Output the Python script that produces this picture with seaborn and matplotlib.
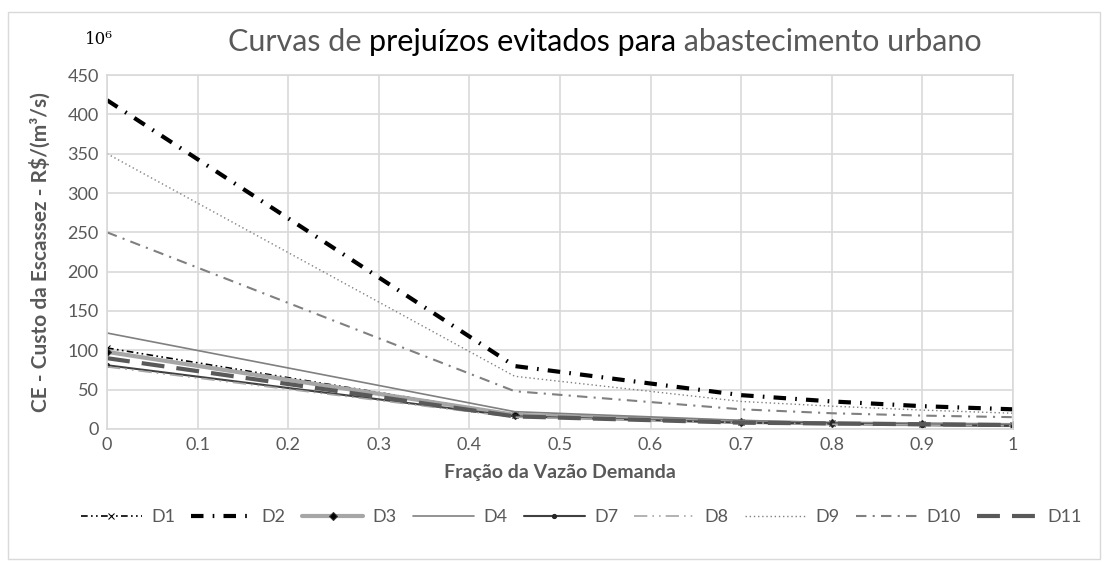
import numpy as np
import pandas as pd
import seaborn as sns
import matplotlib.pyplot as plt
from matplotlib.patches import Rectangle

# data (valores em 10^6)
fracao = [0, 0.45, 0.7, 0.8, 0.9, 1.0]
D1 = [103, 18, 9, 7, 6, 5]
D2 = [418, 80, 43, 35, 29, 25]
D3 = [98, 18, 9, 7, 6, 5]
D4 = [122, 22, 11, 8, 7, 6]
D7 = [81, 16, 8, 7, 5, 4]
D8 = [79, 15, 8, 6, 5, 4]
D9 = [350, 67, 35, 29, 24, 20]
D10 = [250, 48, 25, 20, 17, 15]
D11 = [90, 16, 8, 7, 6, 5]
nomes = ['D1', 'D2', 'D3', 'D4', 'D7', 'D8', 'D9', 'D10', 'D11']
series = [D1, D2, D3, D4, D7, D8, D9, D10, D11]

estilos = {
    'D1': dict(color='black', lw=1.2, ls=(0, (4, 2, 1, 2, 1, 2)), marker='x', ms=5, mec='black'),
    'D2': dict(color='black', lw=3, ls=(0, (3, 2.2, 0.4, 2.2)), marker=None),
    'D3': dict(color='#a6a6a6', lw=3, ls='-', marker='D', ms=4, mfc='black', mec='#333333'),
    'D4': dict(color='#808080', lw=1.2, ls='-', marker=None),
    'D7': dict(color='#404040', lw=1.5, ls='-', marker='o', ms=3, mfc='#262626', mec='#262626'),
    'D8': dict(color='#a6a6a6', lw=1.2, ls=(0, (8, 3, 1, 3, 1, 3)), marker=None),
    'D9': dict(color='#808080', lw=1, ls=(0, (1, 2)), marker=None),
    'D10': dict(color='#808080', lw=1.5, ls=(0, (5, 3, 1, 3)), marker=None),
    'D11': dict(color='#595959', lw=3, ls=(0, (5.5, 2.9)), marker=None),
}

sns.set_theme(style='whitegrid')
plt.rcParams['font.family'] = ['Lato', 'DejaVu Sans']

fig = plt.figure(figsize=(11.07, 5.62), dpi=100)
ax = fig.add_axes([0.0967, 0.2367, 0.8183, 0.6298])

for nome, vals in zip(nomes, series):
    df = pd.DataFrame({'x': fracao, 'y': vals})
    s = estilos[nome]
    kw = dict(color=s['color'], linewidth=s['lw'], linestyle=s['ls'], label=nome)
    if s['marker']:
        kw.update(marker=s['marker'], markersize=s['ms'],
                  markerfacecolor=s.get('mfc', s['color']), markeredgecolor=s.get('mec', s['color']))
    sns.lineplot(data=df, x='x', y='y', ax=ax, legend=False, **kw)

ax.set_xlim(0, 1)
ax.set_ylim(0, 450)
ax.set_xticks(np.arange(0, 1.01, 0.1))
ax.set_xticklabels(['0', '0.1', '0.2', '0.3', '0.4', '0.5', '0.6', '0.7', '0.8', '0.9', '1'])
ax.set_yticks(range(0, 451, 50))
ax.grid(True, color='#d9d9d9', linewidth=1.2)
for sp in ax.spines.values():
    sp.set_color('#d9d9d9')
    sp.set_linewidth(1.2)
ax.tick_params(colors='#595959', labelsize=13, length=0, pad=6)
ax.set_xlabel('Fração da Vazão Demanda', fontsize=14, fontweight='bold', color='#595959', labelpad=8)
ax.set_ylabel('CE - Custo da Escassez - R$/(m³/s)', fontsize=15, fontweight='bold', color='#595959', labelpad=12)

# titulo com cores misturadas
ty = 0.925
t1 = fig.text(0.206, ty, 'Curvas de ', fontsize=22, color='#595959', va='center')
fig.canvas.draw()
r = fig.canvas.get_renderer()
bb = t1.get_window_extent(r)
t2 = fig.text(bb.x1 / fig.bbox.width, ty, 'prejuízos evitados para', fontsize=22, color='black', va='center')
bb2 = t2.get_window_extent(r)
fig.text(bb2.x1 / fig.bbox.width, ty, ' abastecimento urbano', fontsize=22, color='#595959', va='center')

fig.text(0.077, 0.93, '10⁶', fontsize=12, color='black', family=['DejaVu Serif'], va='center')

handles, labels = ax.get_legend_handles_labels()
fig.legend(handles, labels, loc='center', bbox_to_anchor=(0.525, 0.08), ncol=9, frameon=False,
           fontsize=13, handlelength=3.4, columnspacing=0.9, handletextpad=0.5, labelcolor='#595959')

fig.patches.append(Rectangle((0.007, 0.005), 0.987, 0.973, transform=fig.transFigure,
                             fill=False, edgecolor='#d9d9d9', linewidth=1))

fig.savefig('out.png', dpi=100)
